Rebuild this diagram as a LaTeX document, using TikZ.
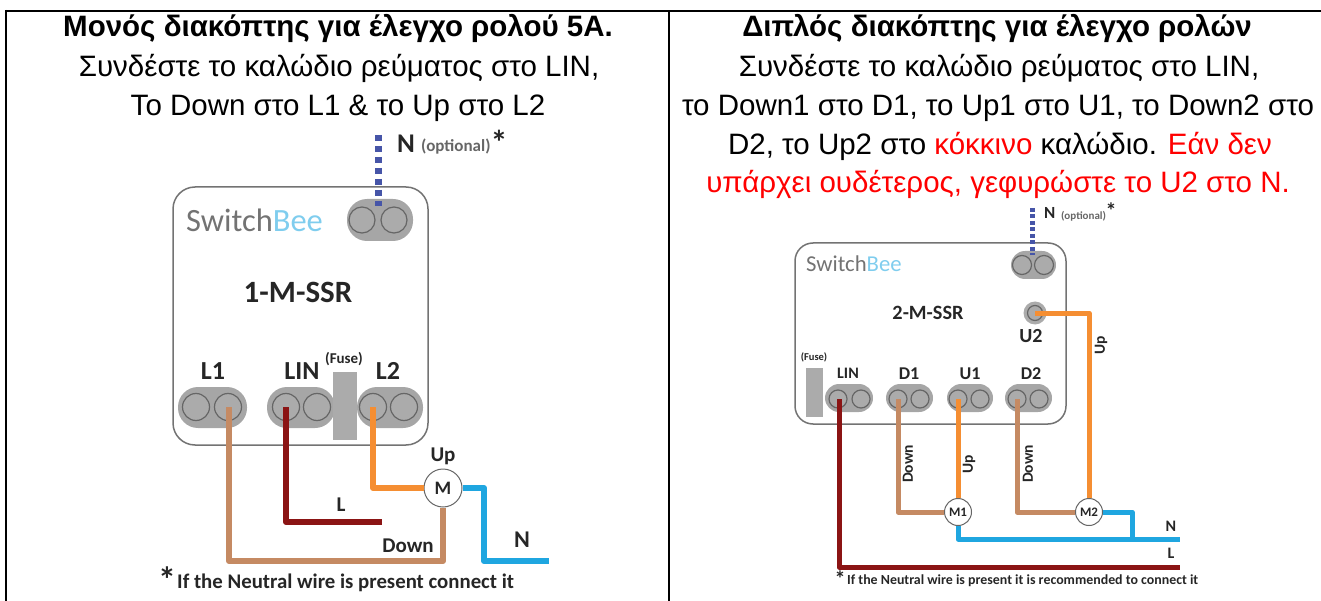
\documentclass[tikz,border=0pt]{standalone}
\usepackage{fontspec}
\setmainfont{Liberation Sans}
\newfontfamily\labelfont{Carlito}
\tikzset{
  capt/.style={inner sep=0pt,font=\fontsize{29.5}{35}\selectfont,anchor=base},
  lab/.style={inner sep=0pt,font=\labelfont\bfseries\fontsize{#1}{#1}\selectfont,text=black!85},
  lab/.default=21,
  termblock/.style={fill=black!35,rounded corners=#1,draw=none},
  hole/.style={circle,draw=black!60,fill=black!33,line width=1.2pt,minimum size=#1,inner sep=0pt},
  housing/.style={draw=black!55,line width=1.5pt,rounded corners=22pt},
  motor/.style={circle,draw=black!60,fill=white,line width=1pt,minimum size=#1,inner sep=0pt},
  wire/.style={line width=#1,line join=round},
  wire/.default=6pt,
}
\definecolor{wbrown}{HTML}{C58A63}
\definecolor{wred}{HTML}{8B1414}
\definecolor{worange}{HTML}{F58E32}
\definecolor{wblue}{HTML}{1FA6E0}
\definecolor{wdots}{HTML}{4655A8}
\definecolor{beeblue}{HTML}{7FCDEE}
\begin{document}
\begin{tikzpicture}[x=1pt,y=-1pt]
\useasboundingbox (0,0) rectangle (1321,601);
% table rules
\draw[line width=2pt] (6,11) -- (1321,11);
\draw[line width=2pt] (6,10) -- (6,601);
\draw[line width=2pt] (669,11) -- (669,601);
% captions
\node[capt] (leftA) at (338,37) {\bfseries Μονός διακόπτης για έλεγχο ρολού 5A.};
\node[capt] (leftB) at (339,77) {Συνδέστε το καλώδιο ρεύματος στο LIN,};
\node[capt] (leftC) at (338,116) {Το Down στο L1 \& το Up στο L2};
\node[capt] (rightA) at (997,37) {\bfseries Διπλός διακόπτης για έλεγχο ρολών};
\node[capt] (rightB) at (999,77) {Συνδέστε το καλώδιο ρεύματος στο LIN,};
\node[capt] (rightC) at (998,116) {το Down1 στο D1, το Up1 στο U1, το Down2 στο};
\node[capt] (rightD) at (1000,155) {D2, το Up2 στο \textcolor{red}{κόκκινο} καλώδιο. \textcolor{red}{Εάν δεν}};
\node[capt,text=red] (rightE) at (998,193) {υπάρχει ουδέτερος, γεφυρώστε το U2 στο N.};
% left module
\draw[housing] (173,187) rectangle (428,445);
\node[inner sep=0pt,font=\labelfont\fontsize{32.5}{32}\selectfont,anchor=west,text=black!55] (beeA) at (186,220) {Switch\textcolor{beeblue}{Bee}};
\fill[termblock=20pt] (347,199) rectangle (413,241);
\node[hole=26pt] (topA) at (362,220) {};
\node[hole=26pt] (topB) at (394,220) {};
\node[lab=31] (nameA) at (298,292) {1-M-SSR};
\fill[termblock=20pt] (178,387) rectangle (247,428);
\node[hole=27pt] (holeA) at (196,407) {};
\node[hole=27pt] (holeB) at (228,407) {};
\fill[termblock=20pt] (267,387) rectangle (335,428);
\node[hole=27pt] (holeC) at (286,407) {};
\node[hole=27pt] (holeD) at (317,407) {};
\fill[termblock=20pt] (357,387) rectangle (423,428);
\node[hole=27pt] (holeE) at (373,407) {};
\node[hole=27pt] (holeF) at (404,407) {};
\fill[black!33] (333,372) rectangle (357,440);
\node[lab=26] (labL1) at (213,371) {L1};
\node[lab=26] (labLIN) at (302,371) {LIN};
\node[lab=26] (labL2) at (388,371) {L2};
\node[lab=15] (fuseA) at (344,359) {(Fuse)};
\node[motor=38pt] (motorA) at (443,488) {};
\node[lab=19] (labM) at (443,488) {M};
\coordinate (brA) at (229,561);
\coordinate (brB) at (443,561);
\coordinate (redA) at (286,522);
\coordinate (redB) at (382,522);
\coordinate (orA) at (373,488);
\coordinate (blA) at (484,488);
\coordinate (blB) at (484,561);
\coordinate (blC) at (549,561);
\draw[wire,wbrown] (holeB.center -| brA) -- (brA) -- (brB) -- (motorA.south);
\draw[wire,wred] (holeC.center) -- (redA) -- (redB);
\draw[wire,worange] (holeE.center) -- (orA) -- (motorA.west);
\draw[wire,wblue] (motorA.east) -- (blA) -- (blB) -- (blC);
\coordinate (dotA) at (378,135);
\draw[line width=7pt,wdots,dash pattern=on 6pt off 5pt] (dotA) -- (dotA |- topA.north);
\node[lab=27,anchor=west] (labN) at (397,144) {N};
\node[lab=17,anchor=west,text=black!60] (optA) at (421,147) {(optional)};
\node[lab=34] (astA) at (499,142) {*};
\node[lab] (labUp) at (443,456) {Up};
\node[lab=21] (labL) at (341,505) {L};
\node[lab=21] (labDown) at (408,546) {Down};
\node[lab=24] (labNb) at (522,540) {N};
\node[lab=36] (astB) at (167,580) {*};
\node[lab=20.8,anchor=west] (noteA) at (177,583) {If the Neutral wire is present connect it};
% right module
\draw[housing,rounded corners=18pt] (795,243) rectangle (1066,424);
\node[inner sep=0pt,font=\labelfont\fontsize{22.7}{23}\selectfont,anchor=west,text=black!55] (beeB) at (806,264) {Switch\textcolor{beeblue}{Bee}};
\fill[termblock=14pt] (1011,251) rectangle (1056,279);
\node[hole=19pt] (topC) at (1022,265) {};
\node[hole=19pt] (topD) at (1044,265) {};
\node[lab=20.3] (nameB) at (928,313) {2-M-SSR};
\node[circle,fill=black!33,minimum size=23pt,inner sep=0pt] (holeU) at (1035,313) {};
\node[hole=15pt] (holeUb) at (1035,313) {};
\node[lab=20] (labU2) at (1031,336) {U2};
\node[lab=10.5] (fuseB) at (814,357) {(Fuse)};
\fill[black!33] (806,368) rectangle (823,417);
\fill[termblock=14pt] (825,384) rectangle (873,412);
\node[hole=18pt] (holeG) at (838,399) {};
\node[hole=18pt] (holeH) at (861,399) {};
\fill[termblock=14pt] (886,384) rectangle (933,412);
\node[hole=18pt] (holeI) at (898,399) {};
\node[hole=18pt] (holeJ) at (920,399) {};
\fill[termblock=14pt] (947,384) rectangle (993,412);
\node[hole=18pt] (holeK) at (958,399) {};
\node[hole=18pt] (holeL) at (980,399) {};
\fill[termblock=14pt] (1005,384) rectangle (1052,412);
\node[hole=18pt] (holeM) at (1017,399) {};
\node[hole=18pt] (holeN) at (1039,399) {};
\node[lab=16] (labLINb) at (848,373) {LIN};
\node[lab=18] (labD1) at (909,374) {D1};
\node[lab=18] (labU1) at (970,374) {U1};
\node[lab=18] (labD2) at (1031,374) {D2};
\node[motor=27pt] (motorB) at (958,512) {};
\node[lab=13] (labM1) at (958,512) {M1};
\node[motor=27pt] (motorC) at (1089,512) {};
\node[lab=13] (labM2) at (1089,512) {M2};
\coordinate (brC) at (898,512);
\coordinate (brD) at (1017,512);
\coordinate (orB) at (1089,313);
\coordinate (blD) at (958,539);
\coordinate (blE) at (1132,539);
\coordinate (blF) at (1132,512);
\coordinate (blG) at (1180,539);
\coordinate (redC) at (839,567);
\coordinate (redD) at (1180,567);
\draw[wire=5pt,wbrown] (holeI.center) -- (brC) -- (motorB.west);
\draw[wire=5pt,wbrown] (holeM.center) -- (brD) -- (motorC.west);
\draw[wire=5pt,worange] (holeK.center) -- (motorB.north);
\draw[wire=5pt,worange] (holeUb.center) -- (orB) -- (motorC.north);
\draw[wire=5pt,wblue] (motorB.south) -- (blD) -- (blG);
\draw[wire=5pt,wblue] (motorC.east) -- (blF) -- (blE);
\draw[wire=5pt,wred] (holeG.center -| redC) -- (redC) -- (redD);
\coordinate (dotB) at (1032,208);
\draw[line width=5pt,wdots,dash pattern=on 4pt off 2.5pt] (dotB) -- (dotB |- topC.north);
\node[lab=17,anchor=west] (labNc) at (1044,213) {N};
\node[lab=11,anchor=west,text=black!60] (optB) at (1061,216) {(optional)};
\node[lab=22] (astC) at (1111,211) {*};
\node[lab=15.5,rotate=90] (labUpB) at (1101,345) {Up};
\node[lab=15.5,rotate=90] (labDownA) at (908,464) {Down};
\node[lab=15.5,rotate=90] (labUpC) at (969,464) {Up};
\node[lab=15.5,rotate=90] (labDownB) at (1028,464) {Down};
\node[lab=16] (labNd) at (1171,526) {N};
\node[lab=16] (labLb) at (1171,553) {L};
\node[lab=22] (astD) at (840,579) {*};
\node[lab=13.9,anchor=west] (noteB) at (847,581) {If the Neutral wire is present it is recommended to connect it};
\end{tikzpicture}
\end{document}
